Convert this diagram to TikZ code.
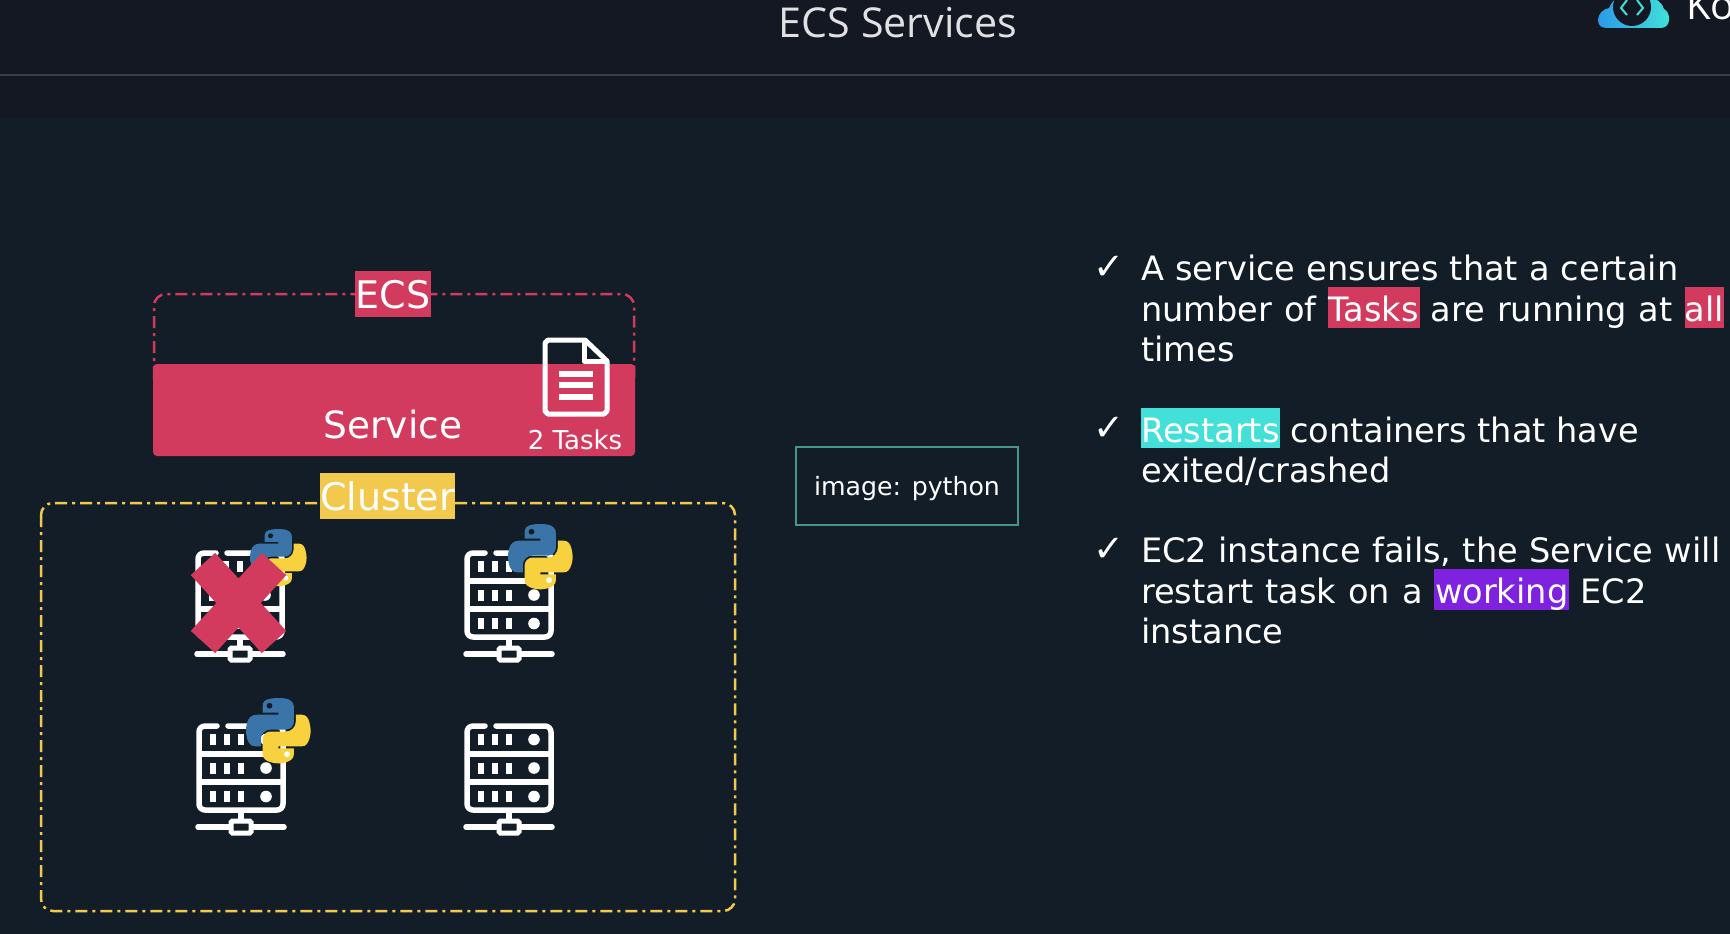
\documentclass[tikz,border=0pt]{standalone}
\usepackage{fontspec}
\setmainfont{DejaVu Sans}
\newfontfamily\titlefont{Open Sans}
\definecolor{hdr}{RGB}{19,24,35}
\definecolor{mainbg}{RGB}{18,29,40}
\definecolor{crim}{RGB}{211,59,94}
\definecolor{gold}{RGB}{242,201,76}
\definecolor{teal1}{RGB}{70,150,140}
\definecolor{cyanhl}{RGB}{66,224,216}
\definecolor{cloudl}{RGB}{42,155,232}
\definecolor{purp}{RGB}{126,34,224}
\definecolor{pyblue}{RGB}{58,116,168}
\definecolor{pyyel}{RGB}{247,210,62}
\newcommand{\wsp}[1]{\spaceskip=\dimexpr\fontdimen2\font+#1\relax}
\newcommand{\pylogo}[3]{%
\begin{scope}[shift={(#1,#2)},x=#3pt/110,y=-#3pt/110]
\fill[pyblue] (54.9,0) .. controls (50.3,0) and (46,0.4) .. (42.1,1.1) .. controls (30.8,3.1) and (28.7,7.3) .. (28.7,15) -- (28.7,25.3) -- (55.5,25.3) -- (55.5,28.7) -- (18.6,28.7) .. controls (10.8,28.7) and (4,33.3) .. (1.9,42.3) .. controls (-0.6,52.5) and (-0.7,58.8) .. (1.9,69.5) .. controls (3.8,77.4) and (8.3,83.1) .. (16.1,83.1) -- (25.4,83.1) -- (25.4,70.8) .. controls (25.4,62) and (33,54.2) .. (42.1,54.2) -- (68.9,54.2) .. controls (76.3,54.2) and (82.3,48.1) .. (82.3,40.6) -- (82.3,15) .. controls (82.3,7.8) and (76.2,2.3) .. (68.9,1.1) .. controls (64.3,0.3) and (59.5,0) .. (54.9,0) -- cycle;
\fill[mainbg] (40.4,13.3) circle[x radius=5,y radius=5];
\fill[pyyel] (85.6,28.7) -- (85.6,40.6) .. controls (85.6,49.8) and (77.8,57.6) .. (68.9,57.6) -- (42.1,57.6) .. controls (34.8,57.6) and (28.7,63.8) .. (28.7,71.2) -- (28.7,96.7) .. controls (28.7,104) and (35,108.3) .. (42.1,110.3) .. controls (50.6,112.8) and (58.7,113.3) .. (68.9,110.3) .. controls (75.6,108.4) and (82.3,104.5) .. (82.3,96.7) -- (82.3,86.5) -- (55.5,86.5) -- (55.5,83.1) -- (95.7,83.1) .. controls (103.5,83.1) and (106.4,77.7) .. (109.1,69.5) .. controls (111.9,61.1) and (111.8,53) .. (109.1,42.3) .. controls (107.2,34.5) and (103.5,28.7) .. (95.7,28.7) -- cycle;
\fill[white] (70.6,96.5) circle[x radius=5,y radius=5];
\end{scope}}
\tikzset{
  srvline/.style={draw=white,line width=5.5pt,line cap=round,line join=round},
  srv/.pic={
    \draw[srvline,rounded corners=6pt] (21,3) -- (3,3) -- (3,87) -- (87,87) -- (87,3) -- (32,3);
    \draw[draw=white,line width=5.5pt] (3,31) -- (87,31) (3,59) -- (87,59) (45,90) -- (45,100);
    \foreach \yy in {11,39.5,68}{
      \foreach \xx in {14,28,42}{\fill[white] (\xx,\yy) rectangle ++(5.8,11);}
      \fill[white] (70,\yy+5.5) circle[radius=5.8];
    }
    \draw[srvline] (2,104) -- (88,104);
    \draw[draw=white,line width=5pt,fill=mainbg,rounded corners=1.5pt] (35,98) rectangle (55,110);
  },
  hl/.style={inner sep=0pt,anchor=base west,text=white,font=\fontsize{33.6pt}{40pt}\selectfont},
  tick/.style={inner sep=0pt,anchor=base,text=white,font=\fontsize{37pt}{38pt}\selectfont},
  dashbox/.style={line width=2.5pt,dash pattern=on 12pt off 5pt on 3pt off 5pt,rounded corners=12pt},
}
\begin{document}
\begin{tikzpicture}[x=1pt,y=-1pt]
\useasboundingbox (0,0) rectangle (1730,934);
\fill[mainbg] (0,0) rectangle (1730,934);
\fill[hdr] (0,0) rectangle (1730,117);
\draw[color={rgb,255:red,58;green,62;blue,72},line width=1.5pt] (0,75) -- (1730,75);
\node[inner sep=0pt,anchor=base,text={rgb,255:red,225;green,225;blue,228},font=\titlefont\fontsize{41.2pt}{44pt}\selectfont] (title) at (898,38) {ECS Services};
% logo
\fill[left color=cloudl,right color=cyanhl] (1606,28) .. controls (1600,28) and (1598,24) .. (1598,20) .. controls (1598,14) and (1603,9) .. (1609,8) .. controls (1611,3) and (1615,-2) .. (1620,-4) -- (1650,-4) .. controls (1656,-2) and (1663,4) .. (1664,9) .. controls (1668,11) and (1669.5,16) .. (1669,20) .. controls (1669,25) and (1665,28) .. (1661,28) -- cycle;
\fill[hdr] (1632,7) circle[radius=19];
\draw[cyanhl,line width=2pt] (1627,0) -- (1621,8) -- (1627,15) (1637,0) -- (1643,8) -- (1637,15);
\node[inner sep=0pt,anchor=base west,text=white,font=\titlefont\fontsize{40pt}{44pt}\selectfont] (brand) at (1686,20) {Ko};
% ECS
\draw[crim,dashbox] (154,390) rectangle (634,294);
\fill[crim,rounded corners=4pt] (153,364) rectangle (635,456);
\node[fill=crim,minimum width=76pt,minimum height=46pt,inner sep=0pt,text=white,font=\fontsize{38pt}{40pt}\selectfont] (ecs) at (393,294) {\raisebox{-14pt}[0pt][0pt]{ECS}};
\node[inner sep=0pt,anchor=base,text=white,font=\fontsize{37.5pt}{40pt}\selectfont] (service) at (393,438) {Service};
\node[inner sep=0pt,anchor=base,text=white,font=\fontsize{26pt}{28pt}\selectfont] (tasks) at (575,449) {2 Tasks};
% doc
\draw[white,line width=5pt,line join=round] (582,340) -- (548,340) -- (545,343) -- (545,411) -- (548,414) -- (604,414) -- (607,411) -- (607,361) -- (585,340) -- cycle;
\draw[white,line width=5pt,line join=round] (584,340) -- (584,361) -- (607,361);
\foreach \yy in {374,385,397}{\draw[white,line width=5.5pt] (559,\yy) -- (593,\yy);}
% cluster
\draw[gold,dashbox] (41,503) rectangle (735,911);
\node[fill=gold,minimum width=135pt,minimum height=46pt,inner sep=0pt,text=white,font=\fontsize{38pt}{40pt}\selectfont] (cluster) at (387.5,496) {\raisebox{-14pt}[0pt][0pt]{Cluster}};
% servers
\pic at (195,550) {srv};
\pic at (464,550) {srv};
\pic at (196,723) {srv};
\pic at (464,723) {srv};
\pylogo{250}{529}{56}
\pylogo{508}{524}{64}
\pylogo{246}{698}{64}
% X
\draw[crim,line width=33pt] (203,564) -- (274,642) (274,564) -- (203,642);
% image box
\node[draw=teal1,line width=2.5pt,minimum width=222pt,minimum height=78pt,inner sep=0pt,text=white,font=\fontsize{25.2pt}{28pt}\selectfont] (img) at (907,486) {\raisebox{-9pt}[0pt][0pt]{image: python}};
% highlights
\fill[crim] (1328,287) rectangle (1420,328);
\fill[crim] (1685,287) rectangle (1724,328);
\fill[cyanhl] (1141,408) rectangle (1280,448);
\fill[purp] (1434,569) rectangle (1569,610);
% text
\node[tick] (t1) at (1109,279) {✓};
\node[tick] (t2) at (1109,440) {✓};
\node[tick] (t3) at (1109,561) {✓};
\node[hl] (l1) at (1141,280) {\wsp{0.44pt}A service ensures that a certain};
\node[hl] (l2) at (1141,321) {\wsp{1.3pt}number of Tasks are running at all};
\node[hl] (l3) at (1141,361) {times};
\node[hl] (l4) at (1141,442) {Restarts containers that have};
\node[hl] (l5) at (1141,482) {exited/crashed};
\node[hl] (l6) at (1141,562) {\wsp{0.66pt}EC2 instance fails, the Service will};
\node[hl] (l7) at (1141,603) {\wsp{1.5pt}restart task on a working EC2};
\node[hl] (l8) at (1141,643) {instance};
\end{tikzpicture}
\end{document}
